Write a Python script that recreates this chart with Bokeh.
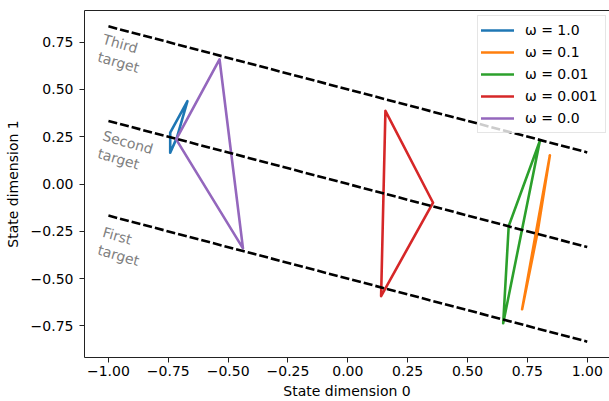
from bokeh.plotting import figure
from bokeh.models import Range1d, FixedTicker, CustomJSTickFormatter, LinearAxis, Legend, LegendItem
from bokeh.core.properties import value
from bokeh.embed import file_html
from bokeh.resources import INLINE

# ---- data ----
series_labels = ["ω = 1.0", "ω = 0.1", "ω = 0.01", "ω = 0.001", "ω = 0.0"]
series_colors = ["#1f77b4", "#ff7f0e", "#2ca02c", "#d62728", "#9467bd"]

w1_x = [-0.742, -0.742, -0.670, -0.714, -0.742]
w1_y = [0.165, 0.271, 0.438, 0.245, 0.165]
w01_x = [0.728, 0.844, 0.792, 0.728]
w01_y = [-0.662, 0.152, -0.259, -0.662]
w001_x = [0.649, 0.672, 0.802, 0.649]
w001_y = [-0.736, -0.222, 0.227, -0.736]
w0001_x = [0.157, 0.356, 0.139, 0.157]
w0001_y = [0.386, -0.099, -0.592, 0.386]
w0_x = [-0.717, -0.536, -0.438, -0.717]
w0_y = [0.236, 0.659, -0.340, 0.236]

traj_x = [w1_x, w01_x, w001_x, w0001_x, w0_x]
traj_y = [w1_y, w01_y, w001_y, w0001_y, w0_y]

target_x = [-1.0, 1.0]
first_target_y = [-0.167, -0.833]
second_target_y = [0.333, -0.333]
third_target_y = [0.833, 0.167]
target_names = ["First\ntarget", "Second\ntarget", "Third\ntarget"]
label_x = [-1.013, -1.013, -1.013]
label_y = [-0.212, 0.298, 0.808]

x_ticks = [-1.0, -0.75, -0.5, -0.25, 0.0, 0.25, 0.5, 0.75, 1.0]
y_ticks = [-0.75, -0.5, -0.25, 0.0, 0.25, 0.5, 0.75]

FONT = "DejaVu Sans"

p = figure(width=609, height=401, output_backend="svg", toolbar_location=None,
           x_range=Range1d(-1.1, 1.093), y_range=Range1d(-0.9167, 0.9167),
           min_border_left=84, min_border_right=0, min_border_top=10, min_border_bottom=44)
p.grid.visible = False
p.outline_line_color = None
p.background_fill_color = "white"

fmt = CustomJSTickFormatter(code="return tick.toFixed(2).replace('-', '\u2212');")
for ax, ticks, label in ((p.xaxis[0], x_ticks, "State dimension 0"), (p.yaxis[0], y_ticks, "State dimension 1")):
    ax.ticker = FixedTicker(ticks=ticks)
    ax.formatter = fmt
    ax.axis_label = label
    ax.axis_label_text_font = FONT
    ax.axis_label_text_font_size = "14px"
    ax.axis_label_text_font_style = "normal"
    ax.axis_label_text_color = "black"
    ax.major_label_text_font = FONT
    ax.major_label_text_font_size = "14px"
    ax.major_label_text_color = "black"
    ax.axis_line_color = "#222222"
    ax.axis_line_width = 1
    ax.major_tick_line_color = "#222222"
    ax.major_tick_out = 5
    ax.major_tick_in = 0
    ax.minor_tick_line_color = None
p.xaxis[0].major_label_standoff = 3
p.xaxis[0].axis_label_standoff = 4
p.yaxis[0].major_label_standoff = 6
p.yaxis[0].axis_label_standoff = 7

top_axis = LinearAxis(ticker=FixedTicker(ticks=[]), axis_line_color="#222222", axis_line_width=1,
                      major_tick_line_color=None, minor_tick_line_color=None,
                      major_tick_out=0, minor_tick_out=0, major_label_standoff=0,
                      major_label_text_font_size="0px")
p.add_layout(top_axis, "above")

items = []
for xs, ys, lab, col in zip(traj_x, traj_y, series_labels, series_colors):
    r = p.line(xs, ys, line_color=col, line_width=2.6, line_join="round", line_cap="round")
    items.append(LegendItem(label=lab, renderers=[r]))

for ty in (first_target_y, second_target_y, third_target_y):
    p.line(target_x, ty, line_color="black", line_width=2.6, line_dash="9 3")

p.text(x=label_x, y=label_y, text=target_names, angle=-16, angle_units="deg",
       text_font=value(FONT), text_font_size="14px", text_color="#808080",
       text_align="left", text_baseline="top", text_line_height=1.15)

legend = Legend(items=items, location=(393, 224), margin=0, padding=3, spacing=0,
                glyph_width=33, glyph_height=22, label_height=22, label_width=77,
                label_standoff=11, label_text_font=FONT, label_text_font_size="14px",
                label_text_color="black",
                border_line_color="#cccccc", border_line_width=1,
                background_fill_color="white", background_fill_alpha=0.8)
p.add_layout(legend, "center")

open("out.html", "w").write(file_html(p, INLINE))
